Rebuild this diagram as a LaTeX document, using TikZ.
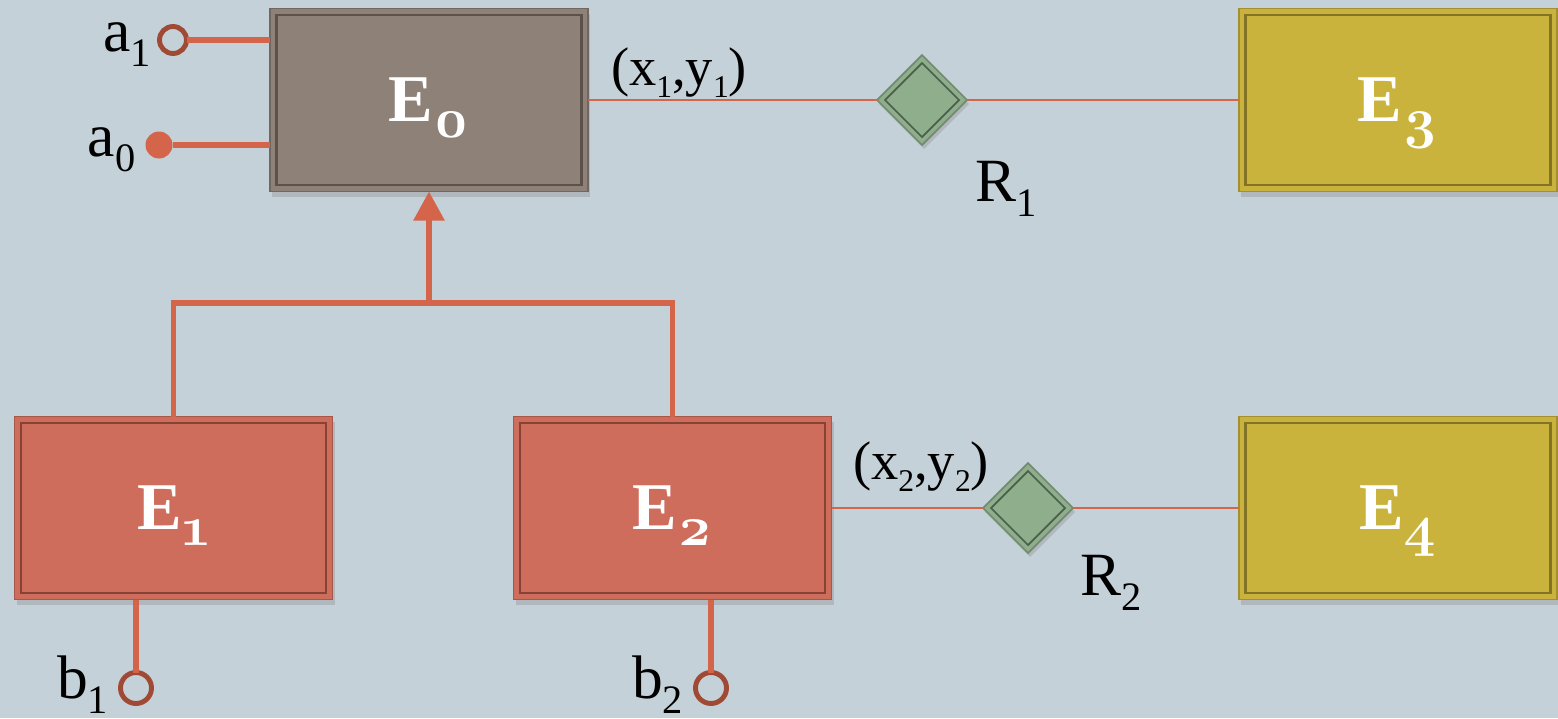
\documentclass[tikz,border=0pt]{standalone}
\usepackage{fontspec}
\setmainfont{Liberation Serif}
\newfontfamily\digitfont[Numbers=OldStyle]{Latin Modern Roman}
\usetikzlibrary{shapes.geometric,shadows,arrows.meta}

\definecolor{bgblue}{RGB}{197,209,216}
\definecolor{basegray}{RGB}{142,129,120}
\definecolor{basegrayline}{RGB}{92,82,75}
\definecolor{subred}{RGB}{207,109,93}
\definecolor{subredline}{RGB}{135,66,54}
\definecolor{olive}{RGB}{201,179,60}
\definecolor{oliveline}{RGB}{130,115,38}
\definecolor{relgreen}{RGB}{143,174,140}
\definecolor{relgreenline}{RGB}{75,96,75}
\definecolor{linkred}{RGB}{212,100,74}
\definecolor{attrbrown}{RGB}{160,74,53}

% subscripts
\newcommand\lsub[1]{\raisebox{-0.15cm}{\fontsize{11.5}{11.5}\selectfont #1}}
\newcommand\csub[1]{\raisebox{-0.12cm}{\fontsize{9}{9}\selectfont #1}}
\newcommand\esub[1]{\raisebox{-0.16cm}{\fontsize{16}{16}\selectfont\digitfont\bfseries #1}}

\begin{document}
\begin{tikzpicture}[
    every node/.style={inner sep=0pt, outer sep=0pt},
    entity/.style={rectangle, minimum width=3.18cm, minimum height=1.83cm, fill=#1, draw=#1!80!black, line width=0.5pt,
        text=white, text depth=0pt, font=\fontsize{19}{22}\selectfont\bfseries,
        drop shadow={opacity=0.3, shadow xshift=0.02cm, shadow yshift=-0.05cm}},
    relation/.style={diamond, minimum width=0.9cm, minimum height=0.9cm, fill=relgreen, draw=relgreen!80!black, line width=0.5pt,
        drop shadow={opacity=0.3, shadow xshift=0.02cm, shadow yshift=-0.04cm}},
    link/.style={linkred, line width=0.6pt},
    attrline/.style={linkred, line width=1.6pt},
    opendot/.style={circle, draw=attrbrown, line width=1.4pt},
    tag/.style={anchor=base west, font=\fontsize{17.5}{20}\selectfont},
    pairtag/.style={anchor=base west, font=\fontsize{15.5}{18}\selectfont},
    ]
    \fill[bgblue] (0,0) rectangle (15.58,7.18);
    \useasboundingbox (0,0) rectangle (15.58,7.18);

    % Row 1: base entity and its relation
    \node[entity=basegray] (e0) at (4.29, 6.18) {E\esub{0}};
    \node[relation] (r1) at (9.22, 6.18) {};
    \node[entity=olive] (e3) at (13.98, 6.18) {E\esub{3}};

    % Row 2: sub entities and relation
    \node[entity=subred] (e1) at (1.735, 2.10) {E\esub{1}};
    \node[entity=subred] (e2) at (6.725, 2.10) {E\esub{2}};
    \node[relation] (r2) at (10.28, 2.10) {};
    \node[entity=olive] (e4) at (13.98, 2.10) {E\esub{4}};

    % inner frames
    \foreach \n/\c in {e0/basegrayline, e1/subredline, e2/subredline, e3/oliveline, e4/oliveline}
        \draw[\c, line width=0.6pt] ([shift={(0.065,-0.065)}]\n.north west) rectangle ([shift={(-0.065,0.065)}]\n.south east);
    \foreach \n in {r1, r2}
        \draw[relgreenline, line width=0.5pt] ([yshift=-0.08cm]\n.north) -- ([xshift=-0.08cm]\n.east)
            -- ([yshift=0.08cm]\n.south) -- ([xshift=0.08cm]\n.west) -- cycle;

    % Attributes
    \node[opendot, minimum size=0.27cm] (a1) at (1.73, 6.78) {};
    \node[circle, fill=linkred, minimum size=0.27cm] (a0) at (1.59, 5.73) {};
    \node[opendot, minimum size=0.31cm] (b1) at (1.36, 0.30) {};
    \node[opendot, minimum size=0.31cm] (b2) at (7.11, 0.30) {};

    % Labels
    \node[tag] (a1lbl) at (1.03, 6.66) {a\lsub{1}};
    \node[tag] (a0lbl) at (0.88, 5.61) {a\lsub{0}};
    \node[tag] (b1lbl) at (0.57, 0.20) {b\lsub{1}};
    \node[tag] (b2lbl) at (6.32, 0.20) {b\lsub{2}};
    \node[tag] (r1lbl) at (9.75, 5.16) {R\lsub{1}};
    \node[tag] (r2lbl) at (10.80, 1.23) {R\lsub{2}};
    \node[pairtag] (p1lbl) at (6.11, 6.33) {(x\csub{1},y\csub{1})};
    \node[pairtag] (p2lbl) at (8.53, 2.39) {(x\csub{2},y\csub{2})};

    % Edges
    \draw[attrline] (a1.east) -- (a1 -| e0.west);
    \draw[attrline] (a0.east) -- (a0 -| e0.west);
    \draw[attrline] (b1 |- e1.south) -- (b1.north);
    \draw[attrline] (b2 |- e2.south) -- (b2.north);
    \draw[link] (e0.east) -- (r1.west);
    \draw[link] (r1.east) -- (e3.west);
    \draw[link] (e2.east) -- (r2.west);
    \draw[link] (r2.east) -- (e4.west);

    % Generalisation
    \coordinate (fork) at (4.29, 4.15);
    \draw[attrline] (e1.north) |- (fork) -| (e2.north);
    \draw[attrline, -{Triangle[width=0.3cm, length=0.29cm]}] (fork) -- (e0.south);
  \end{tikzpicture}
\end{document}
